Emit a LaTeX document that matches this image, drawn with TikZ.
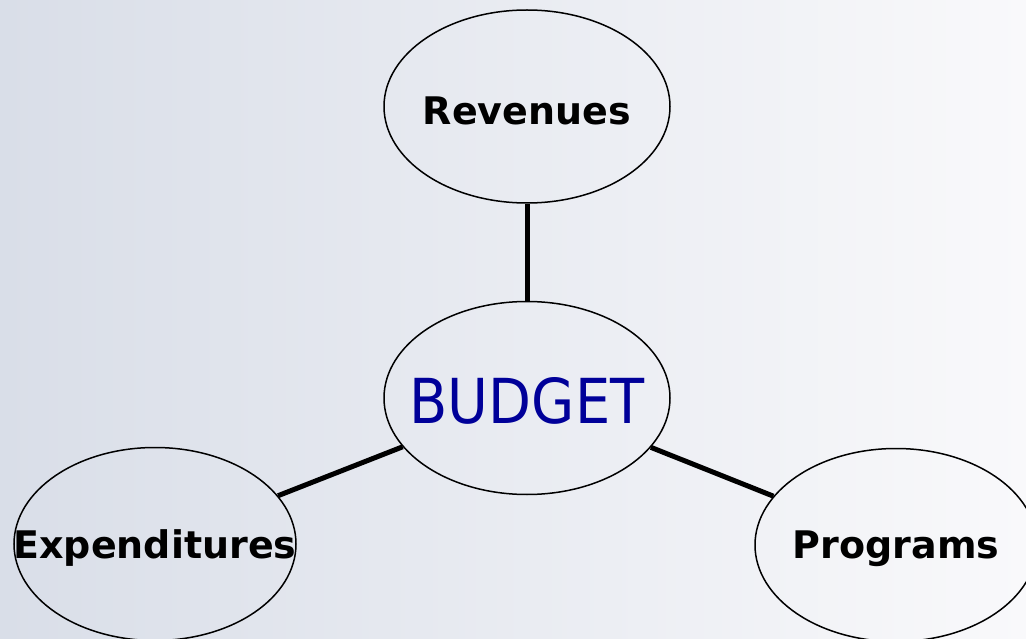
\documentclass[tikz,border=0pt]{standalone}
\usepackage{fontspec}
\setmainfont{DejaVu Sans}
\newfontfamily\budgetfont[FakeStretch=0.9]{DejaVu Sans}
\usetikzlibrary{shapes.geometric}
\definecolor{bgleft}{RGB}{217,222,232}
\definecolor{bgright}{RGB}{249,249,251}
\definecolor{budgetblue}{RGB}{0,0,153}
\tikzset{
    topic/.style={ellipse, draw=black, line width=1.5pt, minimum width=286pt, minimum height=193pt, inner sep=0pt},
    topictext/.style={font=\fontsize{38}{45}\selectfont\bfseries, text=black, yshift=-4pt},
    link/.style={line width=5pt}
}

\begin{document}
\begin{tikzpicture}[x=1pt, y=-1pt]
        \useasboundingbox (0,0) rectangle (1026,639);
        \clip (0,0) rectangle (1026,639);
        % background
        \shade[left color=bgleft, right color=bgright] (0,0) rectangle (1026,639);
        % ellipses
        \node[topic] (budget) at (527,398) {};
        \node[topic, label={[topictext]center:Revenues}] (revenues) at (527,106.5) {};
        \node[topic, minimum width=282pt, label={[topictext]center:Expenditures}] (expend) at (155,544) {};
        \node[topic, minimum width=282pt, label={[topictext]center:Programs}] (programs) at (896,545) {};
        \node[text=budgetblue, font=\budgetfont\fontsize{62}{70}\selectfont, yshift=-3pt] (budgettext) at (budget) {BUDGET};
        % links
        \draw[link] (budget) -- (revenues);
        \draw[link] (budget) -- (expend);
        \draw[link] (budget) -- (programs);
    \end{tikzpicture}
\end{document}
